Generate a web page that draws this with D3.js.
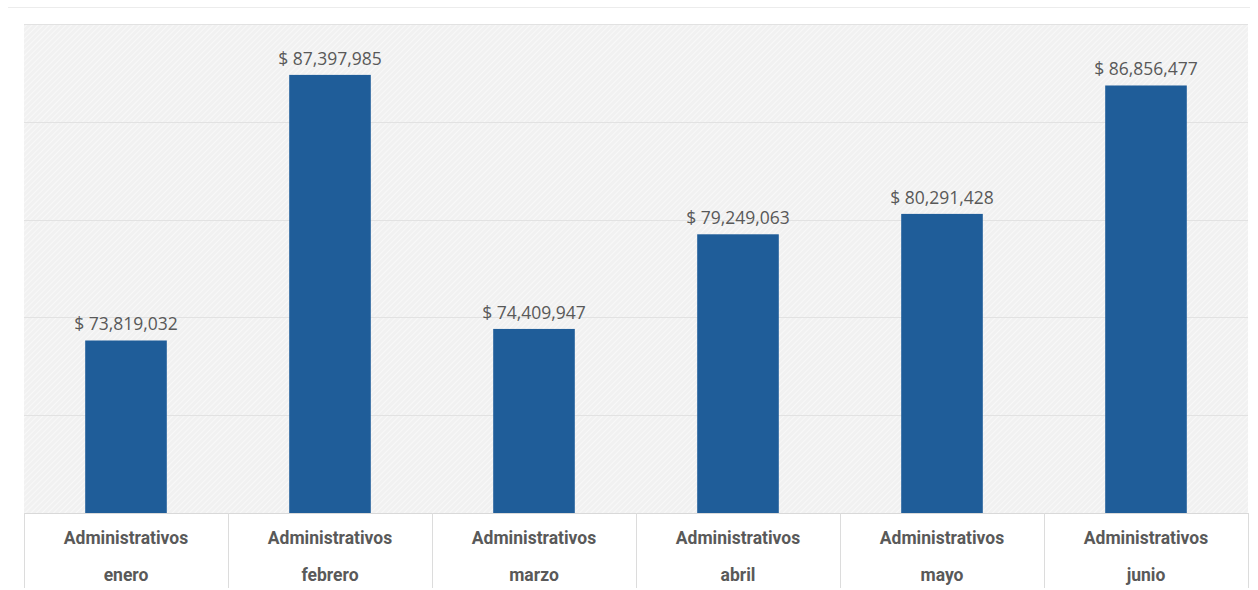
<!DOCTYPE html>
<html>
<head>
<meta charset="utf-8">
<script src="https://cdn.jsdelivr.net/npm/d3@7"></script>
<style>
  html, body { margin: 0; padding: 0; background: #ffffff; }
  svg { display: block; }
</style>
</head>
<body>
<svg id="chart" width="1258" height="590"></svg>
<script>
// Monthly totals for the "Administrativos" group
const categories = ["enero", "febrero", "marzo", "abril", "mayo", "junio"];
const groupLabel = "Administrativos";
const values = [73819032, 87397985, 74409947, 79249063, 80291428, 86856477];
const gridTicks = [65000000, 70000000, 75000000, 80000000, 85000000, 90000000];

const svg = d3.select("#chart");
const W = 1258, H = 590;
const plot = { left: 24, right: 1248, top: 24, bottom: 513 };

// Hatched background pattern
const defs = svg.append("defs");
const pat = defs.append("pattern")
  .attr("id", "hatch")
  .attr("patternUnits", "userSpaceOnUse")
  .attr("width", 4).attr("height", 4)
  .attr("patternTransform", "rotate(45)");
pat.append("rect").attr("width", 4).attr("height", 4).attr("fill", "#f1f1f1");
pat.append("line").attr("x1", 0).attr("y1", 0).attr("x2", 0).attr("y2", 4)
  .attr("stroke", "#fbfbfb").attr("stroke-width", 1.6);

// Outer frame line near the top
svg.append("line")
  .attr("x1", 8).attr("x2", W - 8).attr("y1", 7.5).attr("y2", 7.5)
  .attr("stroke", "#ececec").attr("stroke-width", 1);

svg.append("rect")
  .attr("x", plot.left).attr("y", plot.top)
  .attr("width", plot.right - plot.left).attr("height", plot.bottom - plot.top)
  .attr("fill", "url(#hatch)");

const x = d3.scaleBand()
  .domain(categories)
  .range([plot.left, plot.right])
  .paddingInner(0.6)
  .paddingOuter(0.3);

const y = d3.scaleLinear()
  .domain([65000000, 90000000])
  .range([plot.bottom, plot.top]);

// Horizontal gridlines
svg.append("g")
  .selectAll("line")
  .data(gridTicks.slice(1))
  .join("line")
  .attr("x1", plot.left).attr("x2", plot.right)
  .attr("y1", d => Math.round(y(d)) + 0.5).attr("y2", d => Math.round(y(d)) + 0.5)
  .attr("stroke", "#e2e2e2").attr("stroke-width", 1.2);

// Bars
svg.append("g")
  .selectAll("rect")
  .data(values)
  .join("rect")
  .attr("x", (d, i) => x(categories[i]))
  .attr("width", x.bandwidth())
  .attr("y", d => y(d))
  .attr("height", d => plot.bottom - y(d))
  .attr("fill", "#1f5d99");

// Value labels
const fmt = d3.format(",");
svg.append("g")
  .selectAll("text")
  .data(values)
  .join("text")
  .attr("x", (d, i) => x(categories[i]) + x.bandwidth() / 2)
  .attr("y", d => y(d) - 10)
  .attr("text-anchor", "middle")
  .attr("font-family", "'Open Sans', 'Liberation Sans', sans-serif")
  .attr("font-size", 17.5)
  .attr("fill", "#595959")
  .text(d => "$ " + fmt(d));

// Category axis drawn as a row of cells
const cellBottom = 588;
const axisG = svg.append("g");
axisG.append("rect")
  .attr("x", plot.left).attr("y", plot.bottom)
  .attr("width", plot.right - plot.left).attr("height", cellBottom - plot.bottom)
  .attr("fill", "#ffffff");
axisG.append("line")
  .attr("x1", plot.left).attr("x2", plot.right)
  .attr("y1", plot.bottom + 0.5).attr("y2", plot.bottom + 0.5)
  .attr("stroke", "#d9d9d9");
const edges = categories.map(c => x(c) - x.step() * x.paddingInner() / 2).concat([plot.right]);
edges[0] = plot.left;
axisG.selectAll("line.sep")
  .data(edges)
  .join("line")
  .attr("class", "sep")
  .attr("x1", d => Math.round(d) + 0.5).attr("x2", d => Math.round(d) + 0.5)
  .attr("y1", plot.bottom).attr("y2", cellBottom)
  .attr("stroke", "#dcdcdc");

const labels = axisG.selectAll("text.cat")
  .data(categories)
  .join("text")
  .attr("class", "cat")
  .attr("text-anchor", "middle")
  .attr("font-family", "Roboto, 'Liberation Sans', sans-serif")
  .attr("font-weight", "bold")
  .attr("font-size", 17.5)
  .attr("fill", "#595959");
labels.append("tspan")
  .attr("x", d => x(d) + x.bandwidth() / 2)
  .attr("y", 544)
  .text(groupLabel);
labels.append("tspan")
  .attr("x", d => x(d) + x.bandwidth() / 2)
  .attr("y", 581)
  .text(d => d);
</script>
</body>
</html>
